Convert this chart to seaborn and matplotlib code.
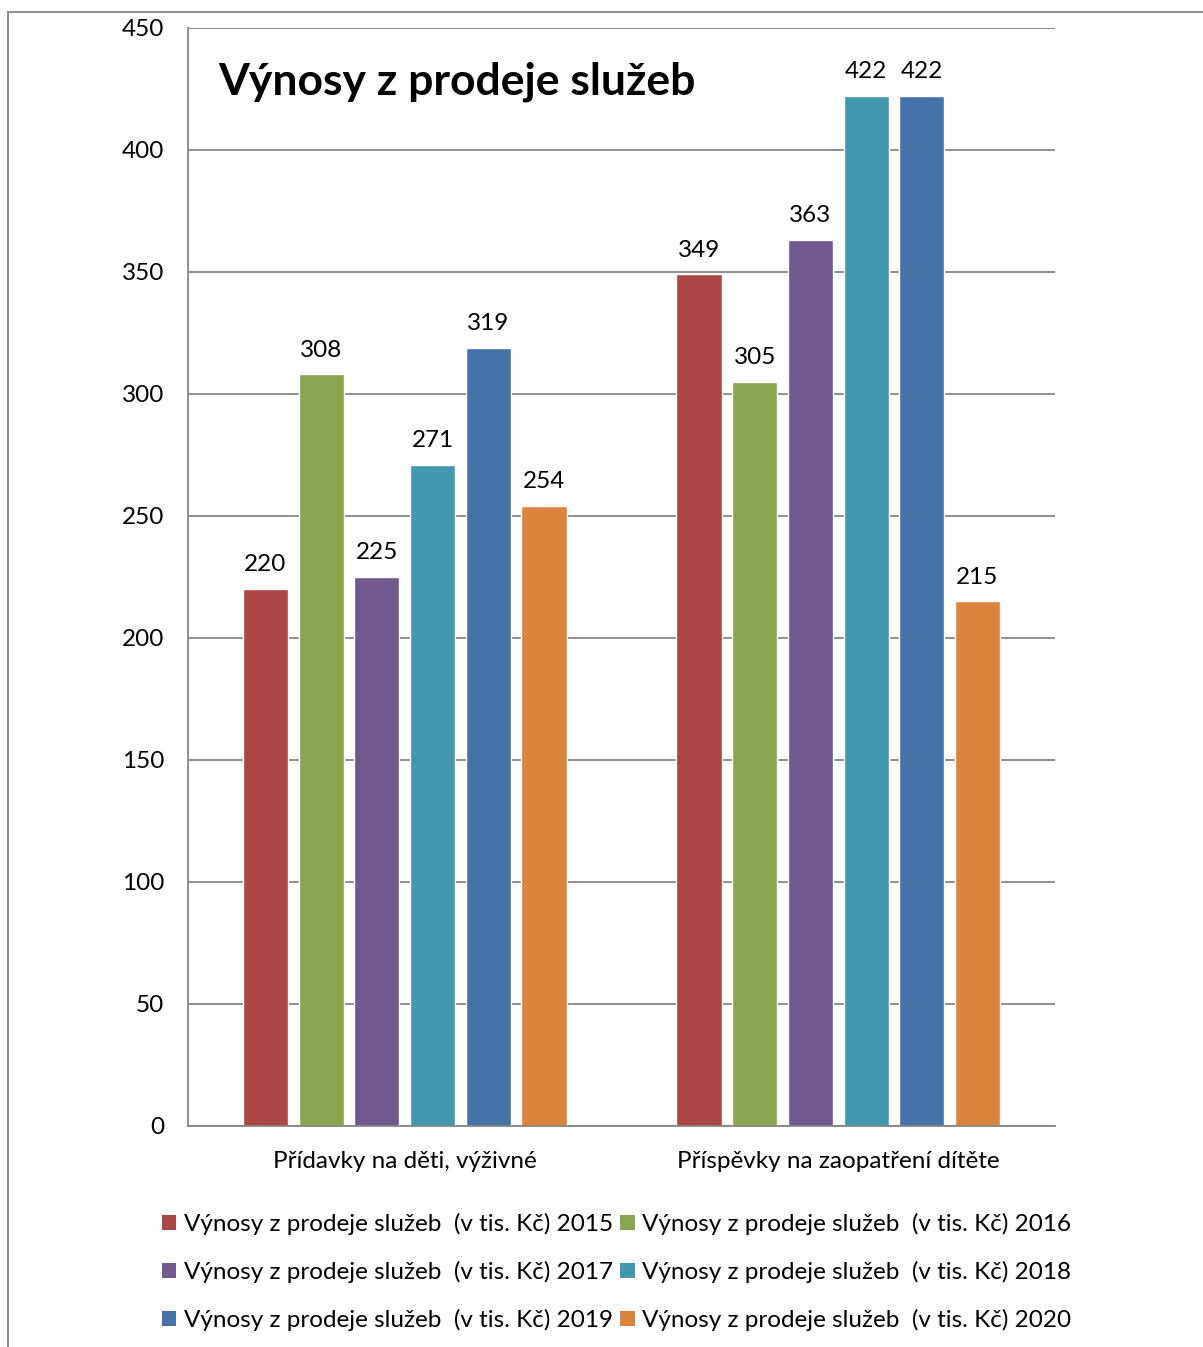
import matplotlib
matplotlib.use('Agg')
import matplotlib.pyplot as plt
import seaborn as sns
import pandas as pd
from matplotlib.lines import Line2D
from matplotlib.patches import Patch

# 数据
categories = ['Přídavky na děti, výživné', 'Příspěvky na zaopatření dítěte']
years = ['2015', '2016', '2017', '2018', '2019', '2020']
vals_2015 = [220, 349]
vals_2016 = [308, 305]
vals_2017 = [225, 363]
vals_2018 = [271, 422]
vals_2019 = [319, 422]
vals_2020 = [254, 215]
colors = ['#AA4644', '#89A54E', '#71588F', '#4198AF', '#4572A7', '#DB843D']
series_prefix = 'Výnosy z prodeje služeb  (v tis. Kč) '
title = 'Výnosy z prodeje služeb'

all_vals = [vals_2015, vals_2016, vals_2017, vals_2018, vals_2019, vals_2020]
rows = []
for y, vs in zip(years, all_vals):
    for c, v in zip(categories, vs):
        rows.append({'kategorie': c, 'serie': series_prefix + y, 'hodnota': v})
df = pd.DataFrame(rows)

sns.set_style('white')
plt.rcParams['font.family'] = ['Lato', 'DejaVu Sans']
plt.rcParams['text.color'] = 'black'
plt.rcParams['xtick.color'] = 'black'
plt.rcParams['ytick.color'] = 'black'

W, H = 1203, 1347
fs = 17.5
fig = plt.figure(figsize=(W / 100, H / 100), dpi=100)
ax = fig.add_axes([188 / W, 1 - 1126 / H, (1055 - 188) / W, (1126 - 28) / H])

sns.barplot(data=df, x='kategorie', y='hodnota', hue='serie',
            palette=colors, width=0.771, gap=0.19, ax=ax,
            saturation=1, legend=False)

for cont in ax.containers:
    ax.bar_label(cont, fmt='%d', padding=10, fontsize=fs, color='black')

ax.set_ylim(0, 450)
ax.set_yticks(range(0, 451, 50))
ax.set_xlim(-0.5, 1.5)
ax.set_xlabel('')
ax.set_ylabel('')
ax.yaxis.grid(True, color='#868686', linewidth=1.3)
ax.set_axisbelow(True)
ax.tick_params(axis='y', length=0, pad=17, labelsize=fs)
ax.tick_params(axis='x', length=0, pad=18, labelsize=fs)
for s in ['top', 'right']:
    ax.spines[s].set_visible(False)
for s in ['left', 'bottom']:
    ax.spines[s].set_color('#868686')
    ax.spines[s].set_linewidth(1.3)

ax.text(218 / W, 1 - 82 / H, title, transform=fig.transFigure,
        fontsize=32, fontweight='bold', va='center', ha='left', color='black')

# 外框
fig.add_artist(Line2D([8 / W, 1], [1 - 12 / H, 1 - 12 / H], color='#868686', lw=1.3))
fig.add_artist(Line2D([8 / W, 8 / W], [0, 1 - 12 / H], color='#868686', lw=1.3))

# 图例按行排列
order = [0, 2, 4, 1, 3, 5]
handles = [Patch(facecolor=colors[i], edgecolor='none') for i in order]
labels = [series_prefix + years[i] for i in order]
fig.legend(handles, labels, ncol=2, loc='upper left',
           bbox_to_anchor=(140 / W, 1 - 1191 / H), frameon=False,
           fontsize=fs, handlelength=0.6, handleheight=0.6,
           handletextpad=0.3, columnspacing=0.3, labelspacing=1.07)

fig.savefig('out.png', dpi=100)
